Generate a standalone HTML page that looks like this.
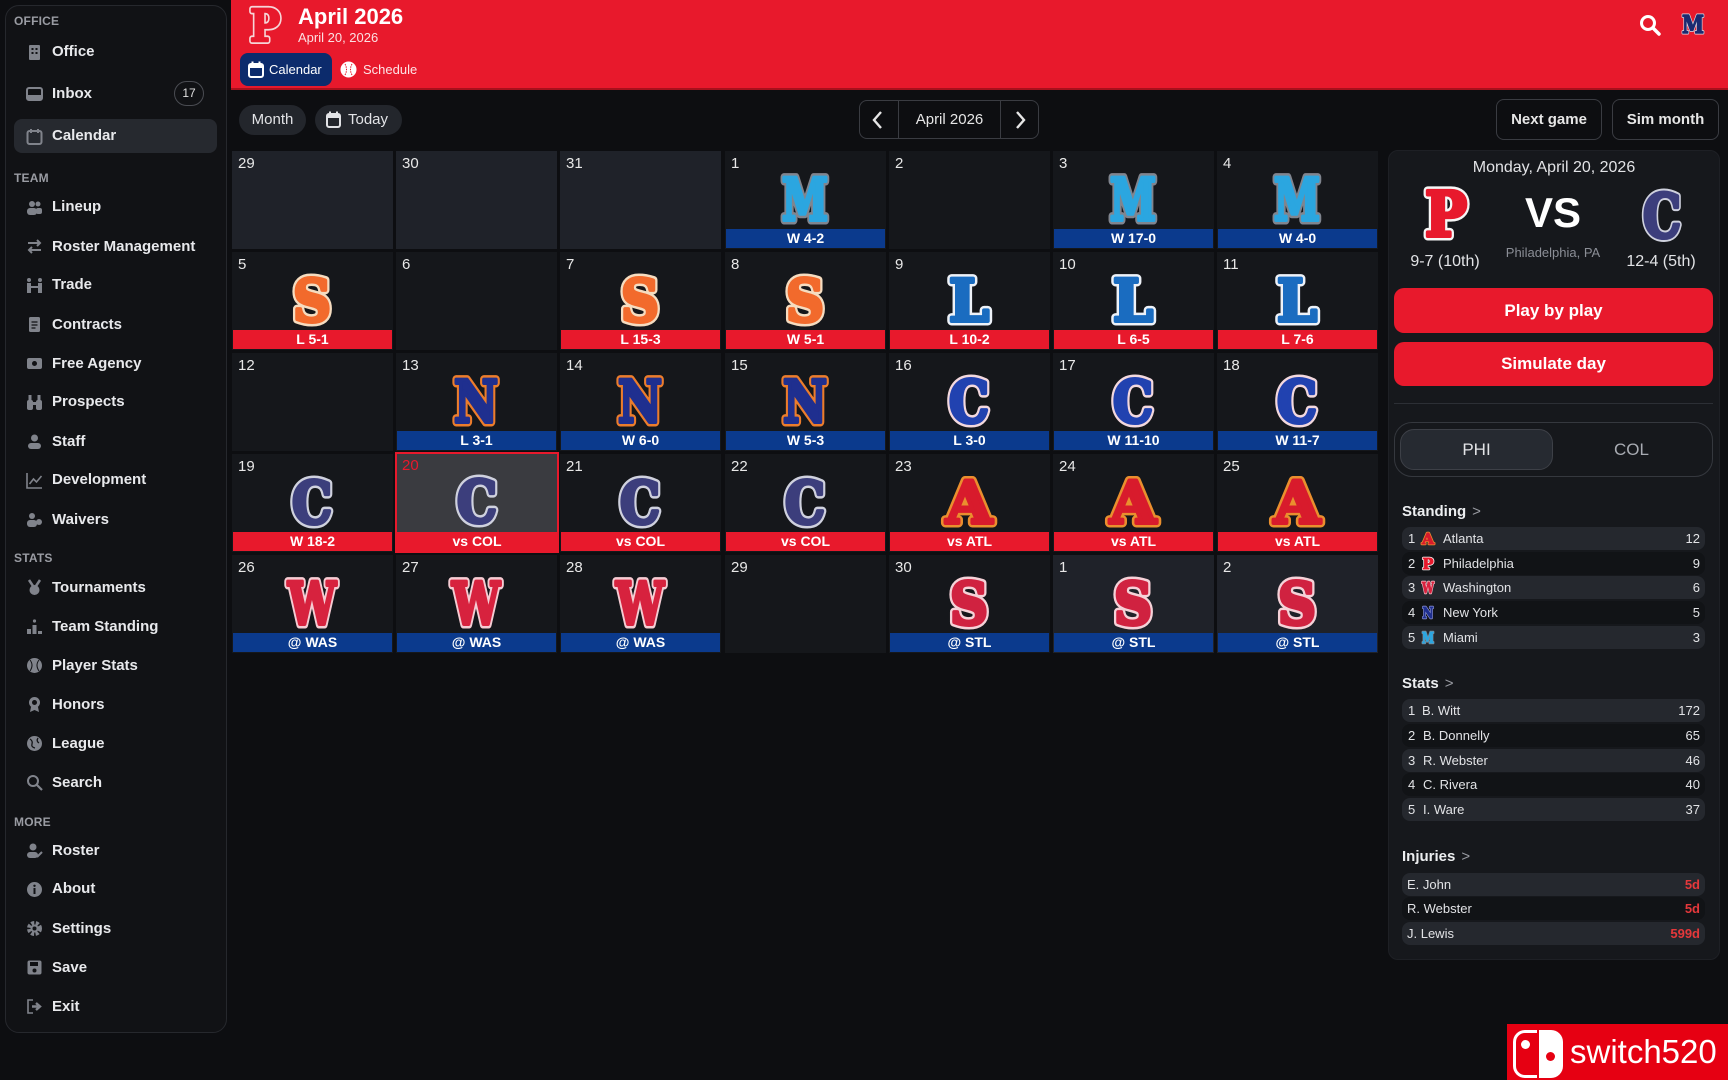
<!DOCTYPE html>
<html><head><meta charset="utf-8">
<style>
*{box-sizing:border-box;margin:0;padding:0}
body{width:1728px;height:1080px;background:#0d0e11;font-family:"Liberation Sans",Arial,sans-serif;color:#e6e7ea;position:relative;overflow:hidden}
.a{position:absolute}
#side{left:5px;top:5px;width:222px;height:1028px;background:#111215;border:1px solid #26282d;border-radius:14px}
.lbl{position:absolute;left:14px;font-size:12px;font-weight:bold;color:#9a9ca3;line-height:14px;letter-spacing:.2px}
.it{position:absolute;left:52px;font-size:15px;font-weight:bold;color:#e8e9ec;line-height:18px;white-space:nowrap}
.ic{position:absolute;left:26px;width:17px;height:17px}
.c{position:absolute;width:161px;height:98px;background:#15171b}
.c.o{background:#1f2229}
.c b{position:absolute;left:6px;top:5px;font-size:15px;line-height:15px;font-weight:normal;color:#e8e8e8}
.bar{position:absolute;left:1px;right:1px;top:78px;height:19px;font-size:14px;font-weight:bold;text-align:center;line-height:19px;color:#fff}
.r{background:#e8192c}.bl{background:#0b3a8d}
.lg{position:absolute;left:50px;top:20px;width:60px;height:56px;overflow:visible}
svg text{font-family:"DejaVu Serif","Liberation Serif",serif;font-weight:bold;text-anchor:middle}
.lg text{font-size:58px}
.lg .o,.big .o,.mini .o{fill:none;stroke-linejoin:round}
.lg .o{stroke-width:9px}
.lg .f{stroke-width:4px;stroke-linejoin:round}
.M .o{stroke:#80858f}.M .f{fill:#2ba6e0;stroke:#2ba6e0}
.So .o{stroke:#f5dcc0}.So .f{fill:#f26a2c;stroke:#f26a2c}
.L .o{stroke:#eef2f8}.L .f{fill:#1a6cc0;stroke:#1a6cc0}
.N .o{stroke:#ec7d2c}.N .f{fill:#1f2f8f;stroke:#1f2f8f}
.Cb .o{stroke:#f3d8de}.Cb .f{fill:#2142b0;stroke:#2142b0}
.Cn .o{stroke:#cfd1de}.Cn .f{fill:#3c3e7c;stroke:#3c3e7c}
.A .o{stroke:#ea8f2e}.A .f{fill:#d81b2c;stroke:#d81b2c}
.W .o{stroke:#f5ccd3}.W .f{fill:#d7223e;stroke:#d7223e}
.Sr .o{stroke:#f5d2d8}.Sr .f{fill:#d02240;stroke:#d02240}
.P .o{stroke:#f6f6f6}.P .f{fill:#e8192c;stroke:#e8192c}
.btn{position:absolute;border:1px solid #3a3c42;border-radius:8px;font-size:15px;font-weight:bold;color:#e6e6e6;text-align:center}
.row{position:absolute;left:1402px;width:303px;height:23px;border-radius:8px;font-size:13px;line-height:23px;color:#e2e3e6}
.row.h{background:#25282e}
.row.d{background:#111316}
.row .n{position:absolute;left:6px}
.row .v{position:absolute;right:5px}
.sh{position:absolute;left:1402px;font-size:15px;font-weight:bold;color:#eceef0;line-height:18px}
.sh i{font-style:normal;color:#9a9ca3;font-weight:normal;margin-left:6px}
.mini{position:absolute;left:19px;top:4px;width:14px;height:15px;overflow:visible}
.mini text{font-size:15px}
.mini .o{stroke-width:2.5px}
.mini .f{stroke-width:1px}
</style></head><body>

<!-- Sidebar -->
<div id="side" class="a"></div>
<div class="lbl" style="top:14px">OFFICE</div>
<svg class="ic" style="top:44px" viewBox="0 0 17 17"><rect x="3" y="1" width="11" height="15" rx="1" fill="#80838b"/><rect x="5.5" y="4" width="2" height="2" fill="#111215"/><rect x="9.5" y="4" width="2" height="2" fill="#111215"/><rect x="5.5" y="8" width="2" height="2" fill="#111215"/><rect x="9.5" y="8" width="2" height="2" fill="#111215"/></svg>
<div class="it" style="top:43px">Office</div>
<svg class="ic" style="top:85px" viewBox="0 0 17 17"><rect x="1" y="3" width="15" height="12" rx="2" fill="none" stroke="#80838b" stroke-width="2"/><rect x="1" y="10" width="15" height="5" fill="#80838b"/></svg>
<div class="it" style="top:85px">Inbox</div>
<div class="a" style="left:174px;top:81px;width:30px;height:25px;border:1px solid #4a4c52;border-radius:13px;font-size:12px;line-height:23px;text-align:center;color:#e0e0e0">17</div>
<div class="a" style="left:14px;top:119px;width:203px;height:34px;background:#26292f;border-radius:8px"></div>
<svg class="ic" style="top:128px" viewBox="0 0 17 17"><rect x="1.5" y="3" width="14" height="13" rx="2" fill="none" stroke="#80838b" stroke-width="2"/><rect x="4" y="1" width="2" height="4" fill="#80838b"/><rect x="11" y="1" width="2" height="4" fill="#80838b"/></svg>
<div class="it" style="top:127px">Calendar</div>

<div class="lbl" style="top:171px">TEAM</div>
<svg class="ic" style="top:199px" viewBox="0 0 17 17"><circle cx="6" cy="5" r="3" fill="#80838b"/><circle cx="12" cy="5" r="2.5" fill="#80838b"/><rect x="1" y="9" width="10" height="7" rx="3" fill="#80838b"/><rect x="10" y="9" width="6" height="6" rx="2" fill="#80838b"/></svg>
<div class="it" style="top:198px">Lineup</div>
<svg class="ic" style="top:238px" viewBox="0 0 17 17"><path d="M2 5h12M11 2l3 3-3 3M15 12H3M6 9l-3 3 3 3" fill="none" stroke="#80838b" stroke-width="2"/></svg>
<div class="it" style="top:238px">Roster Management</div>
<svg class="ic" style="top:277px" viewBox="0 0 17 17"><circle cx="3" cy="3" r="2" fill="#80838b"/><circle cx="14" cy="3" r="2" fill="#80838b"/><rect x="1" y="6" width="4" height="10" fill="#80838b"/><rect x="12" y="6" width="4" height="10" fill="#80838b"/><path d="M5 10h7" stroke="#80838b" stroke-width="2"/></svg>
<div class="it" style="top:276px">Trade</div>
<svg class="ic" style="top:316px" viewBox="0 0 17 17"><rect x="3" y="1" width="11" height="15" rx="1.5" fill="#80838b"/><path d="M5.5 6h6M5.5 9h6M5.5 12h4" stroke="#111215" stroke-width="1.3"/></svg>
<div class="it" style="top:316px">Contracts</div>
<svg class="ic" style="top:355px" viewBox="0 0 17 17"><rect x="1" y="3" width="15" height="11" rx="2" fill="#80838b"/><circle cx="8.5" cy="8.5" r="2.5" fill="#111215"/></svg>
<div class="it" style="top:355px">Free Agency</div>
<svg class="ic" style="top:394px" viewBox="0 0 17 17"><rect x="1" y="6" width="6" height="10" rx="2" fill="#80838b"/><rect x="10" y="6" width="6" height="10" rx="2" fill="#80838b"/><rect x="2.5" y="1" width="3" height="6" fill="#80838b"/><rect x="11.5" y="1" width="3" height="6" fill="#80838b"/><rect x="6" y="8" width="5" height="3" fill="#80838b"/></svg>
<div class="it" style="top:393px">Prospects</div>
<svg class="ic" style="top:433px" viewBox="0 0 17 17"><circle cx="8.5" cy="5" r="3.5" fill="#80838b"/><rect x="2" y="10" width="13" height="6" rx="3" fill="#80838b"/></svg>
<div class="it" style="top:433px">Staff</div>
<svg class="ic" style="top:472px" viewBox="0 0 17 17"><path d="M1 1v15h15" fill="none" stroke="#80838b" stroke-width="1.6"/><path d="M3.5 12l4-5 3 3 5-6" fill="none" stroke="#80838b" stroke-width="1.6"/></svg>
<div class="it" style="top:471px">Development</div>
<svg class="ic" style="top:511px" viewBox="0 0 17 17"><circle cx="6" cy="5" r="3" fill="#80838b"/><rect x="1" y="9" width="10" height="7" rx="3" fill="#80838b"/><circle cx="13" cy="11" r="3" fill="#80838b"/></svg>
<div class="it" style="top:511px">Waivers</div>

<div class="lbl" style="top:551px">STATS</div>
<svg class="ic" style="top:579px" viewBox="0 0 17 17"><path d="M3 1l4 6M14 1l-4 6" stroke="#80838b" stroke-width="2.5"/><circle cx="8.5" cy="11" r="5" fill="#80838b"/></svg>
<div class="it" style="top:579px">Tournaments</div>
<svg class="ic" style="top:618px" viewBox="0 0 17 17"><rect x="1" y="11" width="4" height="5" fill="#80838b"/><rect x="6.5" y="7" width="4" height="9" fill="#80838b"/><rect x="12" y="13" width="4" height="3" fill="#80838b"/><circle cx="8.5" cy="3" r="1.6" fill="#80838b"/></svg>
<div class="it" style="top:618px">Team Standing</div>
<svg class="ic" style="top:657px" viewBox="0 0 17 17"><circle cx="8.5" cy="8.5" r="7.5" fill="#80838b"/><path d="M4 3q4 5 0 11M13 3q-4 5 0 11" stroke="#111215" stroke-width="1" fill="none"/></svg>
<div class="it" style="top:657px">Player Stats</div>
<svg class="ic" style="top:696px" viewBox="0 0 17 17"><circle cx="8.5" cy="6.5" r="5.5" fill="#80838b"/><circle cx="8.5" cy="6.5" r="2.5" fill="#111215"/><path d="M5 11l-1 5 4.5-2 4.5 2-1-5" fill="#80838b"/></svg>
<div class="it" style="top:696px">Honors</div>
<svg class="ic" style="top:735px" viewBox="0 0 17 17"><circle cx="8.5" cy="8.5" r="7.5" fill="#80838b"/><path d="M4 4q3 2 2 5t3 4M12 3q-2 3 1 5" stroke="#111215" stroke-width="1.3" fill="none"/></svg>
<div class="it" style="top:735px">League</div>
<svg class="ic" style="top:774px" viewBox="0 0 17 17"><circle cx="7" cy="7" r="5" fill="none" stroke="#80838b" stroke-width="2"/><path d="M11 11l5 5" stroke="#80838b" stroke-width="2.2"/></svg>
<div class="it" style="top:774px">Search</div>

<div class="lbl" style="top:815px">MORE</div>
<svg class="ic" style="top:842px" viewBox="0 0 17 17"><circle cx="7" cy="5" r="3.5" fill="#80838b"/><rect x="1" y="10" width="11" height="6" rx="3" fill="#80838b"/><path d="M11 15l5-5" stroke="#80838b" stroke-width="2"/></svg>
<div class="it" style="top:842px">Roster</div>
<svg class="ic" style="top:881px" viewBox="0 0 17 17"><circle cx="8.5" cy="8.5" r="7.5" fill="#80838b"/><rect x="7.5" y="7" width="2" height="6" fill="#111215"/><circle cx="8.5" cy="4.8" r="1.2" fill="#111215"/></svg>
<div class="it" style="top:880px">About</div>
<svg class="ic" style="top:920px" viewBox="0 0 17 17"><circle cx="8.5" cy="8.5" r="5.5" fill="none" stroke="#80838b" stroke-width="4" stroke-dasharray="3 1.5"/><circle cx="8.5" cy="8.5" r="4" fill="#80838b"/><circle cx="8.5" cy="8.5" r="2" fill="#111215"/></svg>
<div class="it" style="top:920px">Settings</div>
<svg class="ic" style="top:959px" viewBox="0 0 17 17"><rect x="1.5" y="1.5" width="14" height="14" rx="2" fill="#80838b"/><rect x="4" y="3" width="8" height="4" fill="#111215"/><circle cx="8.5" cy="11.5" r="2" fill="#111215"/></svg>
<div class="it" style="top:959px">Save</div>
<svg class="ic" style="top:998px" viewBox="0 0 17 17"><path d="M7 2H2v13h5" fill="none" stroke="#80838b" stroke-width="1.6"/><path d="M6 8.5h6M10 5l4 3.5-4 3.5" fill="none" stroke="#80838b" stroke-width="2.4"/></svg>
<div class="it" style="top:998px">Exit</div>

<!-- Header -->
<div class="a" style="left:231px;top:0;width:1497px;height:90px;background:#e8192c;border-bottom:2px solid #a8101c"></div>
<svg class="a" style="left:244px;top:4px;width:42px;height:44px;overflow:visible" viewBox="0 0 42 44"><text x="21" y="37" font-size="44" fill="none" stroke="#f6d6d8" stroke-width="6" stroke-linejoin="round" textLength="30" lengthAdjust="spacingAndGlyphs">P</text><text x="21" y="37" font-size="44" fill="#e8192c" stroke="#e8192c" stroke-width="2.5" stroke-linejoin="round" textLength="30" lengthAdjust="spacingAndGlyphs">P</text></svg>
<div class="a" style="left:298px;top:4px;font-size:22px;line-height:26px;font-weight:bold;color:#fff">April 2026</div>
<div class="a" style="left:298px;top:30px;font-size:13px;line-height:15px;color:#fbe0e2">April 20, 2026</div>
<div class="a" style="left:240px;top:53px;width:92px;height:33px;background:#0c2b6c;border-radius:8px"></div>
<svg class="a" style="left:248px;top:61px;width:16px;height:17px" viewBox="0 0 16 17"><rect x="1" y="3" width="14" height="13" rx="2" fill="none" stroke="#fff" stroke-width="2"/><rect x="1" y="3" width="14" height="4" fill="#fff"/><rect x="3.5" y="0.5" width="2" height="4" fill="#fff"/><rect x="10.5" y="0.5" width="2" height="4" fill="#fff"/></svg>
<div class="a" style="left:269px;top:62px;font-size:13px;line-height:15px;color:#fff">Calendar</div>
<svg class="a" style="left:340px;top:61px;width:17px;height:17px" viewBox="0 0 17 17"><circle cx="8.5" cy="8.5" r="8" fill="#fff"/><path d="M5 3q3 5.5 0 11M12 3q-3 5.5 0 11" stroke="#e8192c" stroke-width="1" fill="none" stroke-dasharray="1.5 1"/></svg>
<div class="a" style="left:363px;top:62px;font-size:13px;line-height:15px;color:#fde4e6">Schedule</div>
<svg class="a" style="left:1639px;top:14px;width:22px;height:22px" viewBox="0 0 22 22"><circle cx="9" cy="9" r="6.5" fill="none" stroke="#fff" stroke-width="3"/><path d="M14 14l6 6" stroke="#fff" stroke-width="3.5" stroke-linecap="round"/></svg>
<svg class="a" style="left:1679px;top:13px;width:28px;height:24px;overflow:visible" viewBox="0 0 28 24"><text x="14" y="20" font-size="24" fill="none" stroke="#dcdde6" stroke-width="3" stroke-linejoin="round" textLength="22" lengthAdjust="spacingAndGlyphs">M</text><text x="14" y="20" font-size="24" fill="#1c2a70" stroke="#1c2a70" stroke-width="1.5" stroke-linejoin="round" textLength="22" lengthAdjust="spacingAndGlyphs">M</text></svg>

<!-- Toolbar -->
<div class="a" style="left:239px;top:105px;width:67px;height:30px;background:#23262c;border-radius:15px;font-size:15px;line-height:30px;text-align:center;color:#e2e3e6">Month</div>
<div class="a" style="left:315px;top:105px;width:87px;height:30px;background:#23262c;border-radius:15px"></div>
<svg class="a" style="left:326px;top:111px;width:15px;height:17px" viewBox="0 0 15 17"><rect x="1" y="3" width="13" height="13" rx="2" fill="none" stroke="#e2e3e6" stroke-width="2"/><rect x="1" y="3" width="13" height="4" fill="#e2e3e6"/><rect x="3" y="0.5" width="2" height="4" fill="#e2e3e6"/><rect x="10" y="0.5" width="2" height="4" fill="#e2e3e6"/></svg>
<div class="a" style="left:348px;top:111px;font-size:15px;line-height:18px;color:#e2e3e6">Today</div>

<div class="a" style="left:859px;top:100px;width:180px;height:39px;border:1px solid #3a3c42;border-radius:8px"></div>
<div class="a" style="left:898px;top:101px;width:1px;height:37px;background:#3a3c42"></div>
<div class="a" style="left:1000px;top:101px;width:1px;height:37px;background:#3a3c42"></div>
<svg class="a" style="left:870px;top:110px;width:16px;height:20px" viewBox="0 0 16 20"><path d="M11 2L4 10l7 8" fill="none" stroke="#e6e6e6" stroke-width="2.4"/></svg>
<svg class="a" style="left:1012px;top:110px;width:16px;height:20px" viewBox="0 0 16 20"><path d="M5 2l7 8-7 8" fill="none" stroke="#e6e6e6" stroke-width="2.4"/></svg>
<div class="a" style="left:899px;top:111px;width:101px;text-align:center;font-size:15px;line-height:18px;color:#e6e6e6">April 2026</div>

<div class="btn" style="left:1496px;top:99px;width:106px;height:41px;line-height:39px">Next game</div>
<div class="btn" style="left:1612px;top:99px;width:107px;height:41px;line-height:39px">Sim month</div>

<!-- Calendar -->
<!-- Row 1 -->
<div class="c o" style="left:232px;top:151px"><b>29</b></div>
<div class="c o" style="left:396px;top:151px"><b>30</b></div>
<div class="c o" style="left:560px;top:151px"><b>31</b></div>
<div class="c" style="left:725px;top:151px"><b>1</b><svg class="lg M" viewBox="0 0 60 56"><text class="o" x="30" y="49" textLength="46" lengthAdjust="spacingAndGlyphs">M</text><text class="f" x="30" y="49" textLength="46" lengthAdjust="spacingAndGlyphs">M</text></svg><div class="bar bl">W 4-2</div></div>
<div class="c" style="left:889px;top:151px"><b>2</b></div>
<div class="c" style="left:1053px;top:151px"><b>3</b><svg class="lg M" viewBox="0 0 60 56"><text class="o" x="30" y="49" textLength="46" lengthAdjust="spacingAndGlyphs">M</text><text class="f" x="30" y="49" textLength="46" lengthAdjust="spacingAndGlyphs">M</text></svg><div class="bar bl">W 17-0</div></div>
<div class="c" style="left:1217px;top:151px"><b>4</b><svg class="lg M" viewBox="0 0 60 56"><text class="o" x="30" y="49" textLength="46" lengthAdjust="spacingAndGlyphs">M</text><text class="f" x="30" y="49" textLength="46" lengthAdjust="spacingAndGlyphs">M</text></svg><div class="bar bl">W 4-0</div></div>

<!-- Row 2 -->
<div class="c" style="left:232px;top:252px"><b>5</b><svg class="lg So" viewBox="0 0 60 56"><text class="o" x="30" y="49" textLength="38" lengthAdjust="spacingAndGlyphs">S</text><text class="f" x="30" y="49" textLength="38" lengthAdjust="spacingAndGlyphs">S</text></svg><div class="bar r">L 5-1</div></div>
<div class="c" style="left:396px;top:252px"><b>6</b></div>
<div class="c" style="left:560px;top:252px"><b>7</b><svg class="lg So" viewBox="0 0 60 56"><text class="o" x="30" y="49" textLength="38" lengthAdjust="spacingAndGlyphs">S</text><text class="f" x="30" y="49" textLength="38" lengthAdjust="spacingAndGlyphs">S</text></svg><div class="bar r">L 15-3</div></div>
<div class="c" style="left:725px;top:252px"><b>8</b><svg class="lg So" viewBox="0 0 60 56"><text class="o" x="30" y="49" textLength="38" lengthAdjust="spacingAndGlyphs">S</text><text class="f" x="30" y="49" textLength="38" lengthAdjust="spacingAndGlyphs">S</text></svg><div class="bar r">W 5-1</div></div>
<div class="c" style="left:889px;top:252px"><b>9</b><svg class="lg L" viewBox="0 0 60 56"><text class="o" x="30" y="49" textLength="40" lengthAdjust="spacingAndGlyphs">L</text><text class="f" x="30" y="49" textLength="40" lengthAdjust="spacingAndGlyphs">L</text></svg><div class="bar r">L 10-2</div></div>
<div class="c" style="left:1053px;top:252px"><b>10</b><svg class="lg L" viewBox="0 0 60 56"><text class="o" x="30" y="49" textLength="40" lengthAdjust="spacingAndGlyphs">L</text><text class="f" x="30" y="49" textLength="40" lengthAdjust="spacingAndGlyphs">L</text></svg><div class="bar r">L 6-5</div></div>
<div class="c" style="left:1217px;top:252px"><b>11</b><svg class="lg L" viewBox="0 0 60 56"><text class="o" x="30" y="49" textLength="40" lengthAdjust="spacingAndGlyphs">L</text><text class="f" x="30" y="49" textLength="40" lengthAdjust="spacingAndGlyphs">L</text></svg><div class="bar r">L 7-6</div></div>

<!-- Row 3 -->
<div class="c" style="left:232px;top:353px"><b>12</b></div>
<div class="c" style="left:396px;top:353px"><b>13</b><svg class="lg N" viewBox="0 0 60 56"><text class="o" x="30" y="49" textLength="44" lengthAdjust="spacingAndGlyphs">N</text><text class="f" x="30" y="49" textLength="44" lengthAdjust="spacingAndGlyphs">N</text></svg><div class="bar bl">L 3-1</div></div>
<div class="c" style="left:560px;top:353px"><b>14</b><svg class="lg N" viewBox="0 0 60 56"><text class="o" x="30" y="49" textLength="44" lengthAdjust="spacingAndGlyphs">N</text><text class="f" x="30" y="49" textLength="44" lengthAdjust="spacingAndGlyphs">N</text></svg><div class="bar bl">W 6-0</div></div>
<div class="c" style="left:725px;top:353px"><b>15</b><svg class="lg N" viewBox="0 0 60 56"><text class="o" x="30" y="49" textLength="44" lengthAdjust="spacingAndGlyphs">N</text><text class="f" x="30" y="49" textLength="44" lengthAdjust="spacingAndGlyphs">N</text></svg><div class="bar bl">W 5-3</div></div>
<div class="c" style="left:889px;top:353px"><b>16</b><svg class="lg Cb" viewBox="0 0 60 56"><text class="o" x="30" y="49" textLength="40" lengthAdjust="spacingAndGlyphs">C</text><text class="f" x="30" y="49" textLength="40" lengthAdjust="spacingAndGlyphs">C</text></svg><div class="bar bl">L 3-0</div></div>
<div class="c" style="left:1053px;top:353px"><b>17</b><svg class="lg Cb" viewBox="0 0 60 56"><text class="o" x="30" y="49" textLength="40" lengthAdjust="spacingAndGlyphs">C</text><text class="f" x="30" y="49" textLength="40" lengthAdjust="spacingAndGlyphs">C</text></svg><div class="bar bl">W 11-10</div></div>
<div class="c" style="left:1217px;top:353px"><b>18</b><svg class="lg Cb" viewBox="0 0 60 56"><text class="o" x="30" y="49" textLength="40" lengthAdjust="spacingAndGlyphs">C</text><text class="f" x="30" y="49" textLength="40" lengthAdjust="spacingAndGlyphs">C</text></svg><div class="bar bl">W 11-7</div></div>

<!-- Row 4 -->
<div class="c" style="left:232px;top:454px"><b>19</b><svg class="lg Cn" viewBox="0 0 60 56"><text class="o" x="30" y="49" textLength="40" lengthAdjust="spacingAndGlyphs">C</text><text class="f" x="30" y="49" textLength="40" lengthAdjust="spacingAndGlyphs">C</text></svg><div class="bar r">W 18-2</div></div>
<div class="c" style="left:395px;top:452px;width:164px;height:101px;background:#3a3b40;border:2px solid #e8192c"><b style="left:5px;top:4px;color:#e8192c">20</b><svg class="lg Cn" style="left:50px;top:19px" viewBox="0 0 60 56"><text class="o" x="30" y="49" textLength="40" lengthAdjust="spacingAndGlyphs">C</text><text class="f" x="30" y="49" textLength="40" lengthAdjust="spacingAndGlyphs">C</text></svg><div class="bar r" style="left:0;right:0;top:78px">vs COL</div></div>
<div class="c" style="left:560px;top:454px"><b>21</b><svg class="lg Cn" viewBox="0 0 60 56"><text class="o" x="30" y="49" textLength="40" lengthAdjust="spacingAndGlyphs">C</text><text class="f" x="30" y="49" textLength="40" lengthAdjust="spacingAndGlyphs">C</text></svg><div class="bar r">vs COL</div></div>
<div class="c" style="left:725px;top:454px"><b>22</b><svg class="lg Cn" viewBox="0 0 60 56"><text class="o" x="30" y="49" textLength="40" lengthAdjust="spacingAndGlyphs">C</text><text class="f" x="30" y="49" textLength="40" lengthAdjust="spacingAndGlyphs">C</text></svg><div class="bar r">vs COL</div></div>
<div class="c" style="left:889px;top:454px"><b>23</b><svg class="lg A" viewBox="0 0 60 56"><text class="o" x="30" y="49" textLength="46" lengthAdjust="spacingAndGlyphs">A</text><text class="f" x="30" y="49" textLength="46" lengthAdjust="spacingAndGlyphs">A</text></svg><div class="bar r">vs ATL</div></div>
<div class="c" style="left:1053px;top:454px"><b>24</b><svg class="lg A" viewBox="0 0 60 56"><text class="o" x="30" y="49" textLength="46" lengthAdjust="spacingAndGlyphs">A</text><text class="f" x="30" y="49" textLength="46" lengthAdjust="spacingAndGlyphs">A</text></svg><div class="bar r">vs ATL</div></div>
<div class="c" style="left:1217px;top:454px"><b>25</b><svg class="lg A" viewBox="0 0 60 56"><text class="o" x="30" y="49" textLength="46" lengthAdjust="spacingAndGlyphs">A</text><text class="f" x="30" y="49" textLength="46" lengthAdjust="spacingAndGlyphs">A</text></svg><div class="bar r">vs ATL</div></div>

<!-- Row 5 -->
<div class="c" style="left:232px;top:555px"><b>26</b><svg class="lg W" viewBox="0 0 60 56"><text class="o" x="30" y="49" textLength="48" lengthAdjust="spacingAndGlyphs">W</text><text class="f" x="30" y="49" textLength="48" lengthAdjust="spacingAndGlyphs">W</text></svg><div class="bar bl">@ WAS</div></div>
<div class="c" style="left:396px;top:555px"><b>27</b><svg class="lg W" viewBox="0 0 60 56"><text class="o" x="30" y="49" textLength="48" lengthAdjust="spacingAndGlyphs">W</text><text class="f" x="30" y="49" textLength="48" lengthAdjust="spacingAndGlyphs">W</text></svg><div class="bar bl">@ WAS</div></div>
<div class="c" style="left:560px;top:555px"><b>28</b><svg class="lg W" viewBox="0 0 60 56"><text class="o" x="30" y="49" textLength="48" lengthAdjust="spacingAndGlyphs">W</text><text class="f" x="30" y="49" textLength="48" lengthAdjust="spacingAndGlyphs">W</text></svg><div class="bar bl">@ WAS</div></div>
<div class="c" style="left:725px;top:555px"><b>29</b></div>
<div class="c" style="left:889px;top:555px"><b>30</b><svg class="lg Sr" viewBox="0 0 60 56"><text class="o" x="30" y="49" textLength="38" lengthAdjust="spacingAndGlyphs">S</text><text class="f" x="30" y="49" textLength="38" lengthAdjust="spacingAndGlyphs">S</text></svg><div class="bar bl">@ STL</div></div>
<div class="c o" style="left:1053px;top:555px"><b>1</b><svg class="lg Sr" viewBox="0 0 60 56"><text class="o" x="30" y="49" textLength="38" lengthAdjust="spacingAndGlyphs">S</text><text class="f" x="30" y="49" textLength="38" lengthAdjust="spacingAndGlyphs">S</text></svg><div class="bar bl">@ STL</div></div>
<div class="c o" style="left:1217px;top:555px"><b>2</b><svg class="lg Sr" viewBox="0 0 60 56"><text class="o" x="30" y="49" textLength="38" lengthAdjust="spacingAndGlyphs">S</text><text class="f" x="30" y="49" textLength="38" lengthAdjust="spacingAndGlyphs">S</text></svg><div class="bar bl">@ STL</div></div>

<!-- Right panel -->
<div class="a" style="left:1388px;top:150px;width:332px;height:810px;background:#16181c;border:1px solid #1e2025;border-radius:10px"></div>
<div class="a" style="left:1388px;top:160px;width:332px;text-align:center;font-size:16px;line-height:16px;color:#e2e3e6">Monday, April 20, 2026</div>
<svg class="a big P" style="left:1416px;top:183px;width:60px;height:62px;overflow:visible" viewBox="0 0 60 62"><text class="o" x="30" y="53" font-size="62" stroke-width="9" textLength="42" lengthAdjust="spacingAndGlyphs">P</text><text class="f" x="30" y="53" font-size="62" stroke-width="4" stroke-linejoin="round" textLength="42" lengthAdjust="spacingAndGlyphs">P</text></svg>
<div class="a" style="left:1493px;top:192px;width:120px;text-align:center;font-size:42px;line-height:42px;font-weight:bold;color:#fff">VS</div>
<svg class="a big Cn" style="left:1632px;top:185px;width:60px;height:62px;overflow:visible" viewBox="0 0 60 62"><text class="o" x="30" y="52" font-size="60" stroke-width="8" textLength="38" lengthAdjust="spacingAndGlyphs">C</text><text class="f" x="30" y="52" font-size="60" stroke-width="4" stroke-linejoin="round" textLength="38" lengthAdjust="spacingAndGlyphs">C</text></svg>
<div class="a" style="left:1483px;top:246px;width:140px;text-align:center;font-size:13px;line-height:14px;color:#8b8e96">Philadelphia, PA</div>
<div class="a" style="left:1385px;top:253px;width:120px;text-align:center;font-size:16px;line-height:18px;color:#e2e3e6">9-7 (10th)</div>
<div class="a" style="left:1601px;top:253px;width:120px;text-align:center;font-size:16px;line-height:18px;color:#e2e3e6">12-4 (5th)</div>

<div class="a" style="left:1394px;top:288px;width:319px;height:45px;background:#e8192c;border-radius:10px;text-align:center;font-size:17px;font-weight:bold;line-height:45px;color:#fff">Play by play</div>
<div class="a" style="left:1394px;top:342px;width:319px;height:44px;background:#e8192c;border-radius:10px;text-align:center;font-size:17px;font-weight:bold;line-height:44px;color:#fff">Simulate day</div>
<div class="a" style="left:1394px;top:403px;width:319px;height:1px;background:#2c2f35"></div>

<div class="a" style="left:1394px;top:422px;width:319px;height:55px;border:1px solid #35383e;border-radius:18px"></div>
<div class="a" style="left:1400px;top:429px;width:153px;height:41px;background:#262a31;border:1px solid #3d4047;border-radius:14px;text-align:center;font-size:17px;line-height:39px;color:#e2e3e6">PHI</div>
<div class="a" style="left:1556px;top:429px;width:151px;height:41px;text-align:center;font-size:17px;line-height:41px;color:#a8abb2">COL</div>

<div class="sh" style="top:503px">Standing<i>&gt;</i></div>
<div class="row h" style="top:527px"><span class="n">1</span><svg class="mini A" viewBox="0 0 14 15"><text class="o" x="7" y="13" textLength="12" lengthAdjust="spacingAndGlyphs">A</text><text class="f" x="7" y="13" textLength="12" lengthAdjust="spacingAndGlyphs">A</text></svg><span class="a" style="left:41px">Atlanta</span><span class="v">12</span></div>
<div class="row d" style="top:552px"><span class="n">2</span><svg class="mini P" viewBox="0 0 14 15"><text class="o" x="7" y="13" textLength="11" lengthAdjust="spacingAndGlyphs">P</text><text class="f" x="7" y="13" textLength="11" lengthAdjust="spacingAndGlyphs">P</text></svg><span class="a" style="left:41px">Philadelphia</span><span class="v">9</span></div>
<div class="row h" style="top:576px"><span class="n">3</span><svg class="mini W" viewBox="0 0 14 15"><text class="o" x="7" y="13" textLength="12" lengthAdjust="spacingAndGlyphs">W</text><text class="f" x="7" y="13" textLength="12" lengthAdjust="spacingAndGlyphs">W</text></svg><span class="a" style="left:41px">Washington</span><span class="v">6</span></div>
<div class="row d" style="top:601px"><span class="n">4</span><svg class="mini N" viewBox="0 0 14 15"><text class="o" x="7" y="13" textLength="11" lengthAdjust="spacingAndGlyphs" style="stroke:#8f95d0">N</text><text class="f" x="7" y="13" textLength="11" lengthAdjust="spacingAndGlyphs">N</text></svg><span class="a" style="left:41px">New York</span><span class="v">5</span></div>
<div class="row h" style="top:626px"><span class="n">5</span><svg class="mini M" viewBox="0 0 14 15"><text class="o" x="7" y="13" textLength="12" lengthAdjust="spacingAndGlyphs">M</text><text class="f" x="7" y="13" textLength="12" lengthAdjust="spacingAndGlyphs">M</text></svg><span class="a" style="left:41px">Miami</span><span class="v">3</span></div>

<div class="sh" style="top:675px">Stats<i>&gt;</i></div>
<div class="row h" style="top:699px"><span class="n">1</span><span class="a" style="left:20px">B. Witt</span><span class="v">172</span></div>
<div class="row d" style="top:724px"><span class="n">2</span><span class="a" style="left:21px">B. Donnelly</span><span class="v">65</span></div>
<div class="row h" style="top:749px"><span class="n">3</span><span class="a" style="left:21px">R. Webster</span><span class="v">46</span></div>
<div class="row d" style="top:773px"><span class="n">4</span><span class="a" style="left:21px">C. Rivera</span><span class="v">40</span></div>
<div class="row h" style="top:798px"><span class="n">5</span><span class="a" style="left:21px">I. Ware</span><span class="v">37</span></div>

<div class="sh" style="top:848px">Injuries<i>&gt;</i></div>
<div class="row h" style="top:873px"><span class="n" style="left:5px">E. John</span><span class="v" style="color:#e5383b;font-weight:bold">5d</span></div>
<div class="row d" style="top:897px"><span class="n" style="left:5px">R. Webster</span><span class="v" style="color:#e5383b;font-weight:bold">5d</span></div>
<div class="row h" style="top:922px"><span class="n" style="left:5px">J. Lewis</span><span class="v" style="color:#e5383b;font-weight:bold">599d</span></div>

<!-- Watermark -->
<div class="a" style="left:1507px;top:1024px;width:221px;height:56px;background:#e60012"></div>
<div class="a" style="left:1513px;top:1030px;width:24px;height:48px;border:3px solid #fff;border-right:none;border-radius:12px 0 0 12px"></div>
<div class="a" style="left:1521px;top:1040px;width:9px;height:9px;border-radius:50%;background:#fff"></div>
<div class="a" style="left:1539px;top:1030px;width:24px;height:48px;background:#fff;border-radius:0 12px 12px 0"></div>
<div class="a" style="left:1546px;top:1052px;width:9px;height:9px;border-radius:50%;background:#e60012"></div>
<div class="a" style="left:1570px;top:1033px;font-size:33px;line-height:38px;color:#fff">switch520</div>

</body></html>
